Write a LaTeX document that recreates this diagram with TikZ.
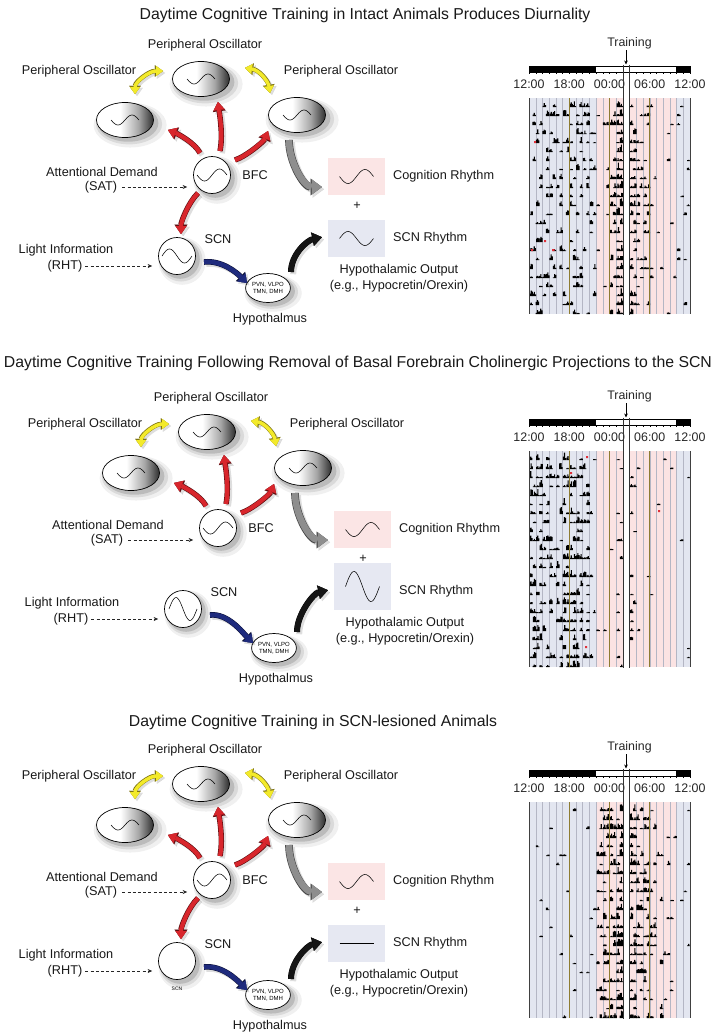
\documentclass[tikz,border=0pt]{standalone}
\usepackage{fontspec}
\setmainfont{Liberation Sans}
\usetikzlibrary{arrows.meta,shadows,calc,shapes.geometric}

\definecolor{arrred}{HTML}{D8262C}
\definecolor{arrredD}{HTML}{5E0D10}
\definecolor{arryel}{HTML}{F3EA2A}
\definecolor{arryelD}{HTML}{7F7512}
\definecolor{arrgry}{HTML}{8E8E8E}
\definecolor{arrgryD}{HTML}{454545}
\definecolor{arrblu}{HTML}{1F2B7D}
\definecolor{arrbluD}{HTML}{0A0F35}
\definecolor{arrblk}{HTML}{151515}
\definecolor{boxpink}{HTML}{FBE5E5}
\definecolor{boxblue}{HTML}{E6E8F2}
\definecolor{actblue}{HTML}{E3E6F0}
\definecolor{actpink}{HTML}{FBE3E3}
\definecolor{olivel}{HTML}{8E7C32}
\definecolor{gridg}{HTML}{B4B6C4}
\definecolor{dotred}{HTML}{E0303A}

\pgfdeclarehorizontalshading{ovalsh}{100bp}{color(0bp)=(white); color(25bp)=(white); color(46bp)=(white); color(62bp)=(black!35); color(75bp)=(black!82); color(100bp)=(black!82)}

\tikzset{
  lab/.style={font=\fontsize{12.7}{15.5}\selectfont, inner sep=0pt, text=black!90},
  ttl/.style={font=\fontsize{15.8}{18}\selectfont, inner sep=0pt, text=black!90},
  tim/.style={font=\fontsize{12.4}{14}\selectfont, inner sep=0pt, text=black!85},
  softsh/.style={general shadow={fill=black, opacity=0.06, shadow xshift=4pt, shadow yshift=-4pt, shadow scale=1.28},
                 general shadow={fill=black, opacity=0.09, shadow xshift=3.5pt, shadow yshift=-3.5pt, shadow scale=1.16},
                 general shadow={fill=black, opacity=0.14, shadow xshift=3pt, shadow yshift=-3pt, shadow scale=1.06}},
  osc/.style={ellipse, draw=black, line width=0.7pt, shade, shading=ovalsh, minimum width=57pt, minimum height=35pt, inner sep=0pt, softsh},
  circ/.style={circle, draw=black, line width=0.7pt, fill=white, minimum size=37pt, inner sep=0pt, softsh},
  hypo/.style={ellipse, draw=black, line width=0.7pt, fill=white, minimum width=43pt, minimum height=29pt, inner sep=0pt, softsh, font=\fontsize{6}{7}\selectfont, align=center},
  rbox/.style={minimum width=57pt, inner sep=0pt},
  wave/.style={line width=0.55pt, black},
  dasharr/.style={line width=0.6pt, black!85, dash pattern=on 3pt off 2.2pt, -{Stealth[length=4.5pt,width=4pt]}},
  fat/.style n args={8}{draw=#1, line width=#3, -{Triangle[length=#5,width=#6,line width=0.01pt]},
    preaction={draw=black, opacity=0.13, line width=#4, transform canvas={shift={(2.2pt,-2.2pt)}}, -{Triangle[length=#7,width=#8,line width=0.01pt]}},
    preaction={draw=#2, line width=#4, -{Triangle[length=#7,width=#8,line width=0.01pt]}}},
  fatd/.style n args={8}{draw=#1, line width=#3, {Triangle[length=#5,width=#6,line width=0.01pt]}-{Triangle[length=#5,width=#6,line width=0.01pt]},
    preaction={draw=black, opacity=0.13, line width=#4, transform canvas={shift={(2pt,-2pt)}}, {Triangle[length=#7,width=#8,line width=0.01pt]}-{Triangle[length=#7,width=#8,line width=0.01pt]}},
    preaction={draw=#2, line width=#4, {Triangle[length=#7,width=#8,line width=0.01pt]}-{Triangle[length=#7,width=#8,line width=0.01pt]}}},
  redarr/.style={fat={arrred}{arrredD}{4.2pt}{5.4pt}{8pt}{11pt}{9.3pt}{12.8pt}},
  yelarr/.style={fatd={arryel}{arryelD}{3.4pt}{4.5pt}{7pt}{10pt}{8.2pt}{11.7pt}},
  gryarr/.style={fat={arrgry}{arrgryD}{6.5pt}{7.7pt}{10pt}{15pt}{11.3pt}{16.8pt}},
  bluarr/.style={fat={arrblu}{arrbluD}{4.6pt}{5.6pt}{8pt}{11.5pt}{9.2pt}{13pt}},
  blkarr/.style={fat={arrblk}{black}{5.4pt}{6pt}{9pt}{13pt}{9.6pt}{13.8pt}},
}

% sine wave inside a node: node, half width, amplitude, sign
\newcommand\sinein[4]{\draw[wave, shift={(#1.center)}] plot[domain=-#2:#2, samples=40] (\x,{#4*#3*sin((\x+#2)/(2*#2)*360)});}

% common part of one diagram: suffix, hypothalamus dy, blue box height
\newcommand\diagram[3]{%
  \node[lab] (ptl#1) at (205,45) {Peripheral Oscillator};
  \node[lab] (pll#1) at (79,71) {Peripheral Oscillator};
  \node[lab] (prl#1) at (341,71) {Peripheral Oscillator};
  \node[osc] (pt#1) at (201,79) {};
  \node[osc] (pl#1) at (125,120) {};
  \node[osc] (pr#1) at (297,115) {};
  \node[circ] (bfc#1) at (212,175) {};
  \node[lab] (bfcl#1) at (255,175) {BFC};
  \node[circ] (scn#1) at (177,256) {};
  \node[lab] (scnl#1) at (218,239) {SCN};
  \node[hypo] (hyp#1) at (268,288+#2) {PVN, VLPO\\TMN, DMH};
  \node[lab] (hypl#1) at (270,319+#2) {Hypothalmus};
  \node[lab] (att#1) at (102,172) {Attentional Demand};
  \node[lab] (sat#1) at (101,187) {(SAT)};
  \node[lab] (li#1) at (66,250) {Light Information};
  \node[lab] (rht#1) at (65,266) {(RHT)};
  \node[rbox, fill=boxpink, minimum height=37pt] (cog#1) at (356.5,176.5) {};
  \node[lab, anchor=west] (cogl#1) at (393,176) {Cognition Rhythm};
  \node[lab] (plus#1) at (357,206) {+};
  \node[rbox, fill=boxblue, minimum height=#3pt] (scr#1) at (356.5,{257-#3/2}) {};
  \node[lab, anchor=west] (scrl#1) at (393,238) {SCN Rhythm};
  \node[lab, align=center] (out#1) at (399,278) {Hypothalamic Output\\(e.g., Hypocretin/Orexin)};
  \sinein{pt#1}{14}{5}{1}
  \sinein{pl#1}{14}{5}{1}
  \sinein{pr#1}{14}{5}{1}
  \sinein{bfc#1}{15}{6}{1}
  \sinein{cog#1}{17}{7}{1}
  \draw[redarr] ($(bfc#1)+(-12,-22)$) .. controls +(-5,-10) and +(10,4) .. ($(pl#1)+(43,10)$);
  \draw[redarr] ($(bfc#1)+(8,-24)$) .. controls +(3,-15) and +(2,15) .. ($(pt#1)+(17,23)$);
  \draw[redarr] ($(bfc#1)+(23,-15)$) .. controls +(12,-4) and +(-4,10) .. ($(pr#1)+(-29,16)$);
  \draw[yelarr] ($(pt#1)+(-38,-8)$) .. controls +(-14,0) and +(0,-12) .. ($(pl#1)+(10,-26)$);
  \draw[yelarr] ($(pt#1)+(44,-11)$) .. controls +(14,2) and +(-2,-12) .. ($(pr#1)+(-27,-22)$);
  \draw[gryarr] ($(pr#1)+(-8,25)$) .. controls +(0,22) and +(-18,0) .. ($(cog#1.west)+(-6,10.5)$);
  \draw[bluarr] ($(scn#1)+(27,6)$) .. controls +(18,-2) and +(-10,-10) .. ($(hyp#1)+(-21,-5)$);
  \draw[blkarr] ($(hyp#1)+(23,-16)$) .. controls +(0,-18) and +(-14,3) .. ($(scr#1.south west)+(-6,-20)$);
  \draw[dasharr, shorten <=5pt, shorten >=6pt] (sat#1.east) -- (sat#1.east -| bfc#1.west);
  \draw[dasharr, shorten <=3pt, shorten >=6pt] (rht#1.east) -- (rht#1.east -| scn#1.west);
}

% actogram: probability array, height array, seed, suffix
\newcommand\actogram[4]{%
  \fill[actblue] (529,98) rectangle (596,314);
  \fill[actpink] (596,98) rectangle (676,314);
  \fill[actblue] (676,98) rectangle (690,314);
  \foreach \k in {1,...,23}{\draw[gridg, line width=0.4pt] ({529+\k*6.70833},98) -- ({529+\k*6.70833},314);}
  \pgfmathsetseed{#3}
  \foreach \r in {0,...,23}{\foreach \s in {0,...,47}{%
    \pgfmathtruncatemacro\hh{\s/2}%
    \ifnum\hh=14\relax\else
      \pgfmathsetmacro\pp{#1[\hh]}%
      \pgfmathsetmacro\uu{rnd}%
      \ifdim\uu pt<\pp pt
        \pgfmathsetmacro\hm{#2[\hh]}%
        \pgfmathsetmacro\hb{0.9+\hm*rnd}%
        \pgfmathsetmacro\ha{0.5+(\hb-0.5)*rnd}%
        \pgfmathsetmacro\hc{0.5+(\hb-0.5)*rnd}%
        \pgfmathsetmacro\xo{529+\s*3.35417+rnd*0.5}%
        \fill[black] (\xo,{107+9*\r}) rectangle ++(1.15,-\ha) ++(0,\ha) rectangle ++(1.15,-\hb) ++(0,\hb) rectangle ++(1.15,-\hc);
      \fi
    \fi}}
  \foreach \k in {6,12,18}{\draw[olivel, line width=0.9pt] ({529+\k*6.70833},98) -- ({529+\k*6.70833},314);}
  \fill[white] (623,97.5) rectangle (629,315);
  \draw[black!75, line width=0.9pt] (529,98) -- (529,314) (690,98) -- (690,314);
  \fill[black] (529,66.5) rectangle (596,72.5);
  \fill[black] (676,66.5) rectangle (690,72.5);
  \draw[line width=0.6pt] (529,66.5) rectangle (690,72.5);
  \foreach \k in {0,...,24}{\draw[line width=0.4pt] ({529+\k*6.70833},72.5) -- ++(0,1.8);}
  \foreach \t [count=\i from 0] in {12:00,18:00,00:00,06:00,12:00}{\node[tim] (tl#4\i) at ({529+\i*40.25},84) {\t};}
  \fill[white] (623.4,66.9) rectangle (628.6,72.1);
  \draw[black!80, line width=0.8pt] (623,64.5) -- (623,315) (629,64.5) -- (629,315);
  \node[tim] (trn#4) at (629.5,43) {Training};
  \coordinate (trne#4) at (626,64.5);
  \draw[line width=0.6pt, -{Stealth[length=4pt,width=3.6pt]}, shorten <=1.5pt] (trn#4.south -| trne#4) -- (trne#4);
}

\def\probA{{0.3,0.32,0.3,0.34,0.36,0.34,0.3,0.32,0.3,0.22,0.04,0.1,0.5,0.9,0,0.6,0.4,0.3,0.1,0.08,0.08,0.1,0.12,0.12}}
\def\hgtA{{4.5,5,5,5,5.5,5,5,5,4.5,4,2,3,5,7,0,5,4,3,2,2,1.5,1.5,2,2}}
\def\probB{{0.6,0.5,0.35,0.35,0.4,0.55,0.55,0.45,0.35,0.12,0.02,0.02,0.08,0.25,0,0.3,0.1,0.04,0.03,0.03,0.03,0.03,0.03,0.04}}
\def\hgtB{{6.5,6,5,5,6,6.5,6.5,6,5,3,1,1,1.5,2,0,3,1.5,1,1,1,1,1,1,1}}
\def\probC{{0.05,0.05,0.04,0.05,0.04,0.05,0.05,0.04,0.05,0.06,0.35,0.6,0.62,0.85,0,0.75,0.55,0.45,0.4,0.28,0.15,0.06,0.04,0.04}}
\def\hgtC{{2,2,2,2,2,2,2,2,2,2,4,5.5,6,6.5,0,6,5,5,5,4.5,4,2,1.5,1.5}}

\begin{document}
\begin{tikzpicture}[x=1pt,y=-1pt]
\useasboundingbox (0,0) rectangle (716,1036);
\fill[white] (0,0) rectangle (716,1036);

\node[ttl] (t1) at (365,15) {Daytime Cognitive Training in Intact Animals Produces Diurnality};
\node[ttl] (t2) at (358,363) {Daytime Cognitive Training Following Removal of Basal Forebrain Cholinergic Projections to the SCN};
\node[ttl] (t3) at (313,722) {Daytime Cognitive Training in SCN-lesioned Animals};

% ---- panel 1
\diagram{1}{0}{37}
\draw[redarr] ($(bfc1)+(-14,18)$) .. controls +(-10,10) and +(0,-12) .. ($(scn1)+(4,-22)$);
\sinein{scn1}{15}{7}{-1}
\sinein{scr1}{17}{7}{-1}
\actogram{\probA}{\hgtA}{11}{a}
\fill[dotred] (534,141) rectangle ++(2,2) (544,240) rectangle ++(2,2) (552,249) rectangle ++(2.5,2) (531,249) rectangle ++(2,2);

% ---- panel 2
\begin{scope}[shift={(6,353)}]
\diagram{2}{7}{47}
\sinein{scn2}{14}{11.5}{-1}
\sinein{scr2}{17}{15}{-1}
\end{scope}
\begin{scope}[shift={(0,353)}]
\actogram{\probB}{\hgtB}{23}{b}
\fill[dotred] (586,103) rectangle ++(2,2) (658,157) rectangle ++(2,2) (570,119) rectangle ++(2,2) (585,293) rectangle ++(2,2);
\end{scope}

% ---- panel 3
\begin{scope}[shift={(0,705)}]
\diagram{3}{2}{37}
\draw[redarr] ($(bfc3)+(-14,18)$) .. controls +(-10,10) and +(0,-12) .. ($(scn3)+(4,-22)$);
\node[font=\fontsize{5}{6}\selectfont, inner sep=0pt] (scnt3) at (177,284) {SCN};
\draw[wave] ($(scr3)+(-17,0)$) -- ($(scr3)+(17,0)$);
\end{scope}
\begin{scope}[shift={(0,704)}]
\actogram{\probC}{\hgtC}{37}{c}
\end{scope}
\end{tikzpicture}
\end{document}
